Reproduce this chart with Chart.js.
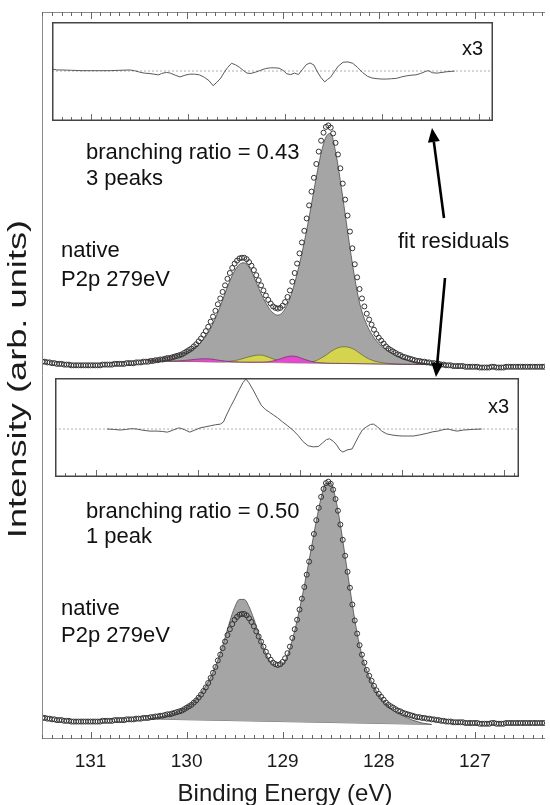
<!DOCTYPE html>
<html>
<head>
<meta charset="utf-8">
<script src="https://cdn.jsdelivr.net/npm/chart.js@4.4.1/dist/chart.umd.min.js"></script>
<style>
  html, body { margin: 0; padding: 0; background: #fff; }
  #wrap { position: relative; width: 550px; height: 805px; }
  #wrap canvas { position: absolute; }
</style>
</head>
<body>
<div id="wrap">
  <canvas id="main" width="550" height="805" style="left:0;top:0;width:550px;height:805px"></canvas>
  <canvas id="res1" width="441" height="99" style="left:52px;top:22px;width:441px;height:99px"></canvas>
  <canvas id="res2" width="464" height="99" style="left:55px;top:378px;width:464px;height:99px"></canvas>
</div>
<script>
// Binding energy grid of the measured spectrum (eV): first point and step
const DATA_START = 131.5;
const DATA_STEP = 0.025;

// Measured P2p intensity (arb. units), one value per grid point
const intensity = [
  2.9, 2.9, 2.8, 2.8, 2.7, 2.7, 2.6, 2.6, 2.6, 2.5,
  2.5, 2.5, 2.4, 2.4, 2.4, 2.4, 2.4, 2.4, 2.4, 2.4,
  2.4, 2.4, 2.4, 2.4, 2.4, 2.5, 2.5, 2.5, 2.5, 2.5,
  2.6, 2.6, 2.6, 2.6, 2.6, 2.7, 2.7, 2.7, 2.7, 2.8,
  2.8, 2.8, 2.9, 2.9, 2.9, 3.0, 3.0, 3.1, 3.1, 3.2,
  3.2, 3.3, 3.4, 3.4, 3.5, 3.6, 3.7, 3.8, 3.9, 4.1,
  4.3, 4.5, 4.7, 5.0, 5.3, 5.7, 6.1, 6.6, 7.1, 7.7,
  8.4, 9.1, 9.9, 10.8, 11.6, 12.5, 13.4, 14.3, 15.1, 15.8,
  16.4, 16.8, 17.1, 17.2, 17.2, 17.0, 16.6, 16.1, 15.5, 14.8,
  14.1, 13.4, 12.7, 12.0, 11.4, 10.9, 10.5, 10.3, 10.2, 10.3,
  10.6, 11.1, 11.8, 12.7, 13.9, 15.1, 16.4, 17.8, 19.3, 20.9,
  22.6, 24.4, 26.3, 28.2, 30.1, 31.8, 33.3, 34.4, 35.2, 35.4,
  35.1, 34.3, 33.0, 31.4, 29.5, 27.4, 25.2, 23.0, 20.8, 18.5,
  16.3, 14.5, 12.9, 11.6, 10.5, 9.5, 8.7, 8.0, 7.3, 6.7,
  6.2, 5.8, 5.4, 5.0, 4.7, 4.5, 4.3, 4.1, 3.9, 3.8,
  3.6, 3.5, 3.4, 3.3, 3.2, 3.1, 3.0, 3.0, 2.9, 2.9,
  2.8, 2.8, 2.7, 2.7, 2.6, 2.6, 2.5, 2.5, 2.4, 2.4,
  2.4, 2.3, 2.3, 2.3, 2.3, 2.3, 2.2, 2.2, 2.2, 2.2,
  2.2, 2.2, 2.1, 2.1, 2.1, 2.1, 2.1, 2.2, 2.2, 2.1,
  2.1, 2.1, 2.1, 2.2, 2.2, 2.2, 2.2, 2.2, 2.2, 2.2,
  2.2, 2.2, 2.2, 2.2, 2.2, 2.2, 2.2, 2.2, 2.2, 2.2
];

// The same spectrum is shown twice; the upper copy is shifted up by this much
const UPPER_OFFSET = 49.0;

// Fit curves share a coarser grid: first point and step (eV)
const FIT_START = 130.4;
const FIT_STEP = 0.05;

// Upper panel: 3-peak fit envelope (grey area)
const fitUpper = [
  52.0, 52.1, 52.2, 52.3, 52.5, 52.6, 52.8, 53.0, 53.3, 53.6,
  54.0, 54.6, 55.4, 56.5, 57.9, 59.5, 61.3, 63.0, 64.4, 65.3,
  65.5, 64.9, 63.6, 62.0, 60.6, 59.4, 58.6, 58.3, 58.7, 59.8,
  61.6, 64.0, 66.8, 70.0, 73.6, 77.3, 80.6, 82.8, 83.3, 80.8,
  76.8, 72.2, 67.6, 63.4, 60.0, 57.8, 56.3, 55.2, 54.4, 53.8,
  53.3, 52.9, 52.6, 52.3, 52.1, 51.9, 51.8, 51.7, 51.6, 51.5
];

// Upper panel: yellow component doublet
const yellowUpper = [
  52.00, 51.99, 51.98, 51.97, 51.97, 51.96, 51.95, 51.94, 51.93, 51.92,
  51.92, 51.91, 51.90, 51.89, 51.88, 51.88, 51.91, 51.96, 52.05, 52.19,
  52.38, 52.57, 52.73, 52.81, 52.75, 52.54, 52.28, 52.07, 51.91, 51.83,
  51.80, 51.79, 51.81, 51.82, 51.86, 52.05, 52.39, 52.79, 53.28, 53.67,
  53.91, 53.95, 53.84, 53.54, 53.08, 52.62, 52.26, 52.00, 51.84, 51.73,
  51.66, 51.61, 51.56, 51.55, 51.54, 51.53, 51.53, 51.52, 51.51, 51.50
];

// Upper panel: magenta component doublet
const magentaUpper = [
  52.00, 51.99, 51.98, 51.97, 51.97, 51.98, 52.00, 52.04, 52.10, 52.17,
  52.24, 52.29, 52.30, 52.27, 52.18, 52.07, 51.98, 51.92, 51.88, 51.86,
  51.85, 51.84, 51.84, 51.85, 51.85, 51.89, 52.00, 52.19, 52.41, 52.60,
  52.67, 52.59, 52.35, 52.12, 51.93, 51.80, 51.74, 51.71, 51.68, 51.67,
  51.66, 51.65, 51.64, 51.64, 51.63, 51.62, 51.61, 51.60, 51.59, 51.58,
  51.58, 51.57, 51.56, 51.55, 51.54, 51.53, 51.53, 51.52, 51.51, 51.50
];

// Lower panel: 1-peak fit envelope (grey area)
const fitLower = [
  2.8, 2.9, 3.0, 3.1, 3.3, 3.5, 3.7, 4.0, 4.4, 4.9,
  5.5, 6.3, 7.3, 8.5, 10.0, 11.8, 13.9, 16.2, 18.1, 19.2,
  19.2, 18.2, 16.5, 14.5, 12.6, 11.1, 10.2, 9.9, 10.3, 11.5,
  13.6, 16.3, 19.4, 22.8, 26.4, 30.0, 33.2, 35.2, 35.2, 33.1,
  29.5, 25.1, 20.7, 16.4, 12.9, 10.4, 8.6, 7.2, 6.1, 5.2,
  4.5, 3.9, 3.5, 3.2, 2.9, 2.6, 2.4, 2.2, 2.1, 2.0
];

// Linear backgrounds under the fits
const bgEnergy = [130.4, 127.45];
const bgUpper = [52.0, 51.5];
const bgLower = [2.75, 2.0];

// Fit residuals, magnified x3 (upper inset: 3 peaks)
const res1Energy = [
  131.40, 131.35, 131.30, 131.20, 131.10, 131.00, 130.90, 130.80, 130.70, 130.60,
  130.55, 130.50, 130.45, 130.40, 130.35, 130.30, 130.27, 130.22, 130.18, 130.13,
  130.08, 130.03, 129.98, 129.93, 129.88, 129.83, 129.78, 129.74, 129.70, 129.66,
  129.63, 129.59, 129.55, 129.51, 129.47, 129.43, 129.39, 129.35, 129.30, 129.25,
  129.20, 129.15, 129.10, 129.06, 129.02, 128.98, 128.94, 128.90, 128.86, 128.82,
  128.78, 128.74, 128.70, 128.67, 128.63, 128.59, 128.56, 128.53, 128.49, 128.45,
  128.40, 128.35, 128.30, 128.25, 128.20, 128.15, 128.10, 128.05, 128.00, 127.95,
  127.90, 127.85, 127.80, 127.75, 127.70, 127.65, 127.60, 127.55, 127.52, 127.48,
  127.43, 127.38, 127.33, 127.28, 127.25
];
const res1Values = [
  0.3, 0.15, 0.15, 0.1, 0.05, 0.05, 0.05, 0.05, 0.1, 0.15,
  0.05, -0.15, -0.3, -0.35, -0.45, -0.55, -0.35, -0.2, -0.3, -0.6,
  -0.85, -0.6, -0.45, -0.45, -0.55, -0.9, -1.4, -2.1, -1.6, -1.0,
  -0.3, 0.5, 1.1, 0.9, 0.55, 0.1, -0.3, -0.35, -0.15, 0.1,
  0.35, 0.45, 0.45, 0.4, 0.1, -0.4, -0.5, -0.3, -0.5, 0.2,
  0.9, 1.15, 0.85, 0.0, -0.9, -1.55, -1.2, -0.9, -0.1, 0.7,
  1.25, 1.3, 1.1, 0.5, -0.2, -0.75, -1.0, -1.1, -1.15, -1.15,
  -1.1, -1.05, -0.85, -0.7, -0.6, -0.55, -0.35, -0.05, 0.05, -0.25,
  -0.3, -0.2, -0.1, -0.05, 0.0
];

// Fit residuals, magnified x3 (lower inset: 1 peak)
const res2Energy = [
  130.89, 130.83, 130.76, 130.70, 130.65, 130.60, 130.55, 130.50, 130.47, 130.40,
  130.35, 130.30, 130.25, 130.20, 130.18, 130.13, 130.08, 130.03, 129.98, 129.93,
  129.88, 129.83, 129.78, 129.75, 129.72, 129.68, 129.64, 129.60, 129.56, 129.53,
  129.50, 129.46, 129.42, 129.38, 129.34, 129.30, 129.26, 129.22, 129.17, 129.12,
  129.07, 129.02, 128.97, 128.92, 128.87, 128.82, 128.78, 128.74, 128.71, 128.67,
  128.64, 128.61, 128.58, 128.54, 128.49, 128.46, 128.42, 128.39, 128.35, 128.31,
  128.28, 128.24, 128.20, 128.15, 128.10, 128.05, 128.00, 127.95, 127.89, 127.83,
  127.75, 127.70, 127.65, 127.60, 127.55, 127.50, 127.46, 127.40, 127.30, 127.22
];
const res2Values = [
  0.0, -0.05, -0.15, -0.05, 0.05, 0.0, -0.15, -0.25, -0.3, -0.3,
  -0.35, -0.45, -0.2, 0.1, 0.15, -0.1, -0.45, -0.15, 0.15, 0.3,
  0.45, 0.6, 0.7, 1.0, 2.0, 3.2, 4.3, 5.5, 6.6, 7.15,
  6.6, 5.6, 4.5, 3.4, 2.8, 2.4, 2.0, 1.6, 1.0, 0.45,
  -0.15, -0.9, -1.8, -2.4, -2.55, -2.5, -2.0, -1.5, -1.4, -1.8,
  -2.3, -3.0, -3.3, -3.0, -2.85, -2.0, -0.9, -0.15, 0.3, 0.65,
  0.7, 0.3, -0.3, -0.7, -0.85, -0.95, -1.0, -1.0, -1.0, -0.85,
  -0.6, -0.4, -0.3, -0.1, 0.0, -0.2, -0.3, -0.15, -0.05, 0.0
];

// Labelled ticks of the binding energy axis
const xTickLabels = [131, 130, 129, 128, 127];

const FONT = "'Liberation Sans', Arial, sans-serif";
Chart.defaults.font.family = FONT;

const toPoints = (xs, ys) => xs.map((x, i) => ({ x, y: ys[i] }));
const dataEnergy = intensity.map((_, i) => +(DATA_START - i * DATA_STEP).toFixed(3));
const fitEnergy = fitUpper.map((_, i) => +(FIT_START - i * FIT_STEP).toFixed(2));

// Draws an arrow with a filled head
function drawArrow(ctx, x0, y0, x1, y1) {
  const ang = Math.atan2(y1 - y0, x1 - x0);
  const headLen = 14, headW = 6;
  const bx = x1 - headLen * Math.cos(ang);
  const by = y1 - headLen * Math.sin(ang);
  ctx.lineWidth = 2.6;
  ctx.beginPath();
  ctx.moveTo(x0, y0);
  ctx.lineTo(bx, by);
  ctx.stroke();
  ctx.beginPath();
  ctx.moveTo(x1, y1);
  ctx.lineTo(bx + headW * Math.sin(ang), by - headW * Math.cos(ang));
  ctx.lineTo(bx - headW * Math.sin(ang), by + headW * Math.cos(ang));
  ctx.closePath();
  ctx.fill();
}

// Frame, inward ticks, axis texts and annotations of the main plot
const mainDecor = {
  id: 'mainDecor',
  afterDraw(chart) {
    const { ctx, chartArea: area, scales: { x } } = chart;
    ctx.save();
    ctx.strokeStyle = '#8a8a8a';
    ctx.lineWidth = 1;
    ctx.beginPath();
    ctx.moveTo(area.left + 0.5, area.top);
    ctx.lineTo(area.left + 0.5, area.bottom);
    ctx.moveTo(area.left, area.top + 0.5);
    ctx.lineTo(area.right, area.top + 0.5);
    ctx.moveTo(area.left, area.bottom - 0.5);
    ctx.lineTo(area.right, area.bottom - 0.5);
    ctx.stroke();
    ctx.strokeStyle = '#666';
    ctx.beginPath();
    for (let k = Math.ceil(x.min * 10); k <= Math.floor(x.max * 10); k++) {
      const px = Math.round(x.getPixelForValue(k / 10)) + 0.5;
      const len = k % 10 === 0 ? 7 : 4;
      ctx.moveTo(px, area.top);
      ctx.lineTo(px, area.top + len);
      ctx.moveTo(px, area.bottom);
      ctx.lineTo(px, area.bottom - len);
    }
    ctx.stroke();

    ctx.fillStyle = '#1a1a1a';
    ctx.textAlign = 'center';
    ctx.textBaseline = 'middle';
    ctx.font = `19px ${FONT}`;
    xTickLabels.forEach(v => ctx.fillText(String(v), x.getPixelForValue(v), 762));

    ctx.textBaseline = 'alphabetic';
    ctx.font = `24px ${FONT}`;
    ctx.fillText('Binding Energy (eV)', 285, 801);
    // y title: the original figure stretches it along its length
    ctx.save();
    ctx.translate(26, 379);
    ctx.rotate(-Math.PI / 2);
    ctx.scale(1.45, 1);
    ctx.font = `25px ${FONT}`;
    ctx.fillText('Intensity (arb. units)', 0, 0);
    ctx.restore();

    ctx.textAlign = 'left';
    ctx.font = `22px ${FONT}`;
    ctx.fillStyle = '#111';
    ctx.fillText('branching ratio = 0.43', 86, 159);
    ctx.fillText('3 peaks', 86, 185);
    ctx.fillText('native', 61, 257);
    ctx.fillText('P2p 279eV', 61, 286);
    ctx.fillText('fit residuals', 398, 248);
    ctx.fillText('branching ratio = 0.50', 86, 518);
    ctx.fillText('1 peak', 86, 543);
    ctx.fillText('native', 61, 615);
    ctx.fillText('P2p 279eV', 61, 642);

    ctx.strokeStyle = '#000';
    ctx.fillStyle = '#000';
    drawArrow(ctx, 444, 218, 432, 128);
    drawArrow(ctx, 445, 278, 436, 377);
    ctx.restore();
  }
};

const circleStyle = {
  showLine: false, pointRadius: 2.5, pointBorderWidth: 1,
  pointBorderColor: '#333', pointBackgroundColor: 'rgba(0,0,0,0)', order: 0
};

new Chart(document.getElementById('main'), {
  type: 'line',
  data: {
    datasets: [
      Object.assign({
        label: 'data (upper)',
        data: dataEnergy.map((e, i) => ({ x: e, y: intensity[i] + UPPER_OFFSET }))
      }, circleStyle),
      Object.assign({
        label: 'data (lower)',
        data: toPoints(dataEnergy, intensity)
      }, circleStyle),
      {
        label: 'magenta component',
        data: toPoints(fitEnergy, magentaUpper),
        borderColor: '#6e2a62', borderWidth: 0.7, backgroundColor: '#e24bcf',
        fill: 6, pointRadius: 0, cubicInterpolationMode: 'monotone', order: 1
      },
      {
        label: 'yellow component',
        data: toPoints(fitEnergy, yellowUpper),
        borderColor: '#5e5e2c', borderWidth: 0.7, backgroundColor: '#d4d44e',
        fill: 6, pointRadius: 0, cubicInterpolationMode: 'monotone', order: 2
      },
      {
        label: 'fit (upper)',
        data: toPoints(fitEnergy, fitUpper),
        borderColor: '#4a4a4a', borderWidth: 0.8, backgroundColor: '#a5a5a5',
        fill: 6, pointRadius: 0, cubicInterpolationMode: 'monotone', order: 3
      },
      {
        label: 'fit (lower)',
        data: toPoints(fitEnergy, fitLower),
        borderColor: '#4a4a4a', borderWidth: 0.8, backgroundColor: '#a5a5a5',
        fill: 7, pointRadius: 0, cubicInterpolationMode: 'monotone', order: 3
      },
      {
        label: 'background (upper)',
        data: toPoints(bgEnergy, bgUpper),
        borderColor: '#555', borderWidth: 0.8, pointRadius: 0, fill: false, order: 4
      },
      {
        label: 'background (lower)',
        data: toPoints(bgEnergy, bgLower),
        borderColor: '#555', borderWidth: 0.8, pointRadius: 0, fill: false, order: 4
      }
    ]
  },
  options: {
    responsive: false,
    animation: false,
    devicePixelRatio: 1,
    events: [],
    layout: { padding: { left: 42, top: 12, right: 0, bottom: 66 } },
    plugins: { legend: { display: false }, tooltip: { enabled: false } },
    scales: {
      x: { type: 'linear', min: 126.27, max: 131.505, reverse: true, display: false },
      y: { type: 'linear', min: 0, max: 100, display: false }
    }
  },
  plugins: [mainDecor]
});

// Box, bottom ticks, white background and the "x3" label of an inset
const insetDecor = {
  id: 'insetDecor',
  beforeDraw(chart) {
    const { ctx, width, height } = chart;
    ctx.save();
    ctx.fillStyle = '#fff';
    ctx.fillRect(0, 0, width, height);
    ctx.restore();
  },
  afterDraw(chart, args, opts) {
    const { ctx, chartArea: area, scales: { x } } = chart;
    ctx.save();
    ctx.strokeStyle = '#6a6a6a';
    ctx.lineWidth = 1;
    ctx.beginPath();
    for (let k = Math.ceil(x.min * 10); k <= Math.floor(x.max * 10); k++) {
      const px = Math.round(x.getPixelForValue(k / 10)) + 0.5;
      const len = k % 10 === 0 ? 7 : 4;
      ctx.moveTo(px, area.bottom);
      ctx.lineTo(px, area.bottom - len);
    }
    ctx.stroke();
    ctx.strokeStyle = '#444';
    ctx.lineWidth = 1.5;
    ctx.strokeRect(area.left + 0.75, area.top + 0.75, area.width - 1.5, area.height - 1.5);
    ctx.fillStyle = '#111';
    ctx.font = `20px ${FONT}`;
    ctx.textAlign = 'right';
    ctx.fillText(opts.label, opts.labelX, opts.labelY);
    ctx.restore();
  }
};

function makeInset(id, energy, values, yMin, yMax, labelX, labelY) {
  const xMin = 126.855, xMax = 131.4;
  return new Chart(document.getElementById(id), {
    type: 'line',
    data: {
      datasets: [
        {
          label: 'residual x3',
          data: toPoints(energy, values),
          borderColor: '#5a5a5a', borderWidth: 1, pointRadius: 0, tension: 0
        },
        {
          label: 'zero',
          data: [{ x: xMax, y: 0 }, { x: xMin, y: 0 }],
          borderColor: '#9a9a9a', borderWidth: 0.8, borderDash: [2, 2], pointRadius: 0
        }
      ]
    },
    options: {
      responsive: false,
      animation: false,
      devicePixelRatio: 1,
      events: [],
      layout: { padding: 0 },
      plugins: {
        legend: { display: false },
        tooltip: { enabled: false },
        insetDecor: { label: 'x3', labelX, labelY }
      },
      scales: {
        x: { type: 'linear', min: xMin, max: xMax, reverse: true, display: false },
        y: { type: 'linear', min: yMin, max: yMax, display: false }
      }
    },
    plugins: [insetDecor]
  });
}

makeInset('res1', res1Energy, res1Values, -7.14, 7.0, 431, 33);
makeInset('res2', res2Energy, res2Values, -6.86, 7.29, 454, 35);
</script>
</body>
</html>
